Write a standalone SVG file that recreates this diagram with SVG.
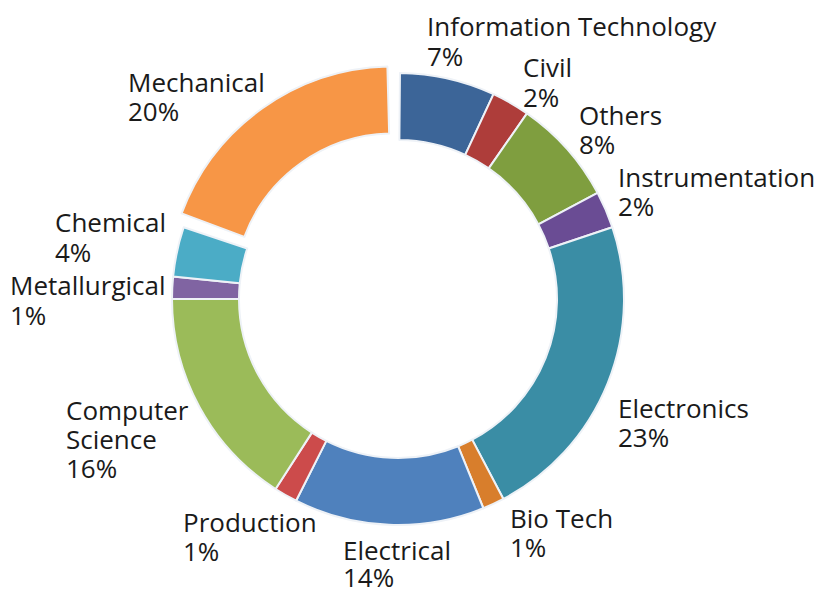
<svg xmlns="http://www.w3.org/2000/svg" width="819" height="589" viewBox="0 0 819 589">
<style>
.s{stroke:#eef2f7;stroke-width:2;stroke-linejoin:round}
.t{font-family:"Open Sans","Noto Sans",sans-serif;font-size:26px;fill:#1a1a1a}
</style>
<rect width="819" height="589" fill="#ffffff"/>
<g id="ring">
<g id="it"><path class="s" fill="#3C6598" d="M399.97,73.01 A226,226 0 0 1 493.51,94.17 L465.20,154.90 A159,159 0 0 0 399.39,140.01 Z"/></g>
<g id="civil"><path class="s" fill="#AE3D3A" d="M493.51,94.17 A226,226 0 0 1 526.98,113.42 L488.74,168.44 A159,159 0 0 0 465.20,154.90 Z"/></g>
<g id="others"><path class="s" fill="#7F9E3F" d="M526.98,113.42 A226,226 0 0 1 597.55,192.90 L538.39,224.35 A159,159 0 0 0 488.74,168.44 Z"/></g>
<g id="instrumentation"><path class="s" fill="#6A4C94" d="M597.55,192.90 A226,226 0 0 1 612.32,227.29 L548.78,248.55 A159,159 0 0 0 538.39,224.35 Z"/></g>
<g id="electronics"><path class="s" fill="#3A8DA5" d="M612.32,227.29 A226,226 0 0 1 503.40,498.91 L472.16,439.65 A159,159 0 0 0 548.78,248.55 Z"/></g>
<g id="biotech"><path class="s" fill="#D87E2C" d="M503.40,498.91 A226,226 0 0 1 483.39,508.25 L458.08,446.21 A159,159 0 0 0 472.16,439.65 Z"/></g>
<g id="electrical"><path class="s" fill="#4F81BD" d="M483.39,508.25 A226,226 0 0 1 296.10,500.73 L326.31,440.92 A159,159 0 0 0 458.08,446.21 Z"/></g>
<g id="production"><path class="s" fill="#CC4B4B" d="M296.10,500.73 A226,226 0 0 1 275.57,488.97 L311.87,432.65 A159,159 0 0 0 326.31,440.92 Z"/></g>
<g id="computerscience"><path class="s" fill="#9BBB59" d="M275.57,488.97 A226,226 0 0 1 172,299 L239,299 A159,159 0 0 0 311.87,432.65 Z"/></g>
<g id="metallurgical"><path class="s" fill="#8064A2" d="M172,299 A226,226 0 0 1 173.12,276.55 L239.79,283.21 A159,159 0 0 0 239,299 Z"/></g>
<g id="chemical"><path class="s" fill="#4BACC6" d="M173.12,276.55 A226,226 0 0 1 183.68,227.29 L247.22,248.55 A159,159 0 0 0 239.79,283.21 Z"/></g>
<g id="mechanical"><path class="s" fill="#F79646" transform="translate(-4.7,-6.5)" d="M186.31,219.85 A226,226 0 0 1 392.08,73.08 L393.84,140.05 A159,159 0 0 0 249.07,243.32 Z"/></g>
</g>
<g id="labels">
<text class="t" x="427" y="36">Information Technology<tspan x="427" dy="30">7%</tspan></text>
<text class="t" x="523" y="77">Civil<tspan x="523" dy="30">2%</tspan></text>
<text class="t" x="579" y="125">Others<tspan x="579" dy="29">8%</tspan></text>
<text class="t" x="618" y="187">Instrumentation<tspan x="618" dy="29">2%</tspan></text>
<text class="t" x="618" y="418">Electronics<tspan x="618" dy="29">23%</tspan></text>
<text class="t" x="510" y="528">Bio Tech<tspan x="510" dy="29">1%</tspan></text>
<text class="t" x="343" y="560">Electrical<tspan x="343" dy="27">14%</tspan></text>
<text class="t" x="183" y="532">Production<tspan x="183" dy="29">1%</tspan></text>
<text class="t" x="66" y="420">Computer<tspan x="66" dy="29">Science</tspan><tspan x="66" dy="29">16%</tspan></text>
<text class="t" x="10" y="295">Metallurgical<tspan x="10" dy="30">1%</tspan></text>
<text class="t" x="55" y="232">Chemical<tspan x="55" dy="30">4%</tspan></text>
<text class="t" x="128" y="92">Mechanical<tspan x="128" dy="29">20%</tspan></text>
</g>
</svg>
